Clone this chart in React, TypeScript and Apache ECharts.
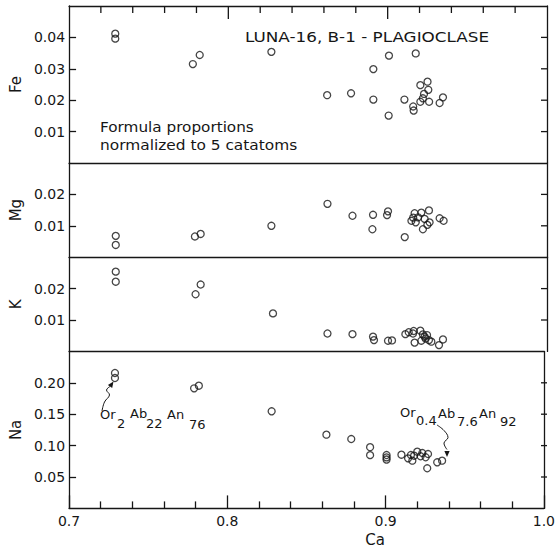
import React, { useEffect, useRef } from 'react';
import * as echarts from 'echarts';

// ---- Data ----
const caFe = [0.729, 0.729, 0.7777, 0.782, 0.827, 0.862, 0.877, 0.891, 0.891, 0.9008, 0.9006, 0.9105, 0.9176, 0.916, 0.9163, 0.9205, 0.925, 0.9255, 0.9228, 0.9221, 0.9205, 0.926, 0.9326, 0.9347];
const fe = [0.0412, 0.0396, 0.0315, 0.0344, 0.0354, 0.0216, 0.0222, 0.0299, 0.0202, 0.0342, 0.0151, 0.0202, 0.0349, 0.018, 0.0167, 0.0248, 0.0259, 0.0233, 0.022, 0.0206, 0.0195, 0.0195, 0.0191, 0.0209];

const caMg = [0.7293, 0.7293, 0.779, 0.7826, 0.827, 0.8622, 0.8779, 0.8908, 0.8904, 0.9002, 0.8996, 0.9107, 0.9169, 0.9211, 0.9259, 0.916, 0.9191, 0.9149, 0.9176, 0.9232, 0.9263, 0.9249, 0.9221, 0.9326, 0.9351];
const mg = [0.0068, 0.0039, 0.0066, 0.0074, 0.01, 0.017, 0.0132, 0.0135, 0.0089, 0.0146, 0.0134, 0.0064, 0.014, 0.0142, 0.0149, 0.0126, 0.0127, 0.0116, 0.0111, 0.0122, 0.0111, 0.0103, 0.0089, 0.0124, 0.0116];

const caK = [0.7293, 0.7293, 0.7794, 0.7826, 0.828, 0.8622, 0.8779, 0.8908, 0.8914, 0.9002, 0.9027, 0.9111, 0.9132, 0.9159, 0.9163, 0.9205, 0.9221, 0.9232, 0.9247, 0.9259, 0.9274, 0.9169, 0.9211, 0.9238, 0.9322, 0.9347];
const k = [0.0254, 0.0222, 0.0182, 0.0213, 0.0121, 0.0057, 0.0055, 0.0047, 0.0036, 0.0034, 0.0035, 0.0055, 0.0061, 0.0057, 0.0065, 0.0066, 0.0054, 0.0047, 0.0052, 0.0036, 0.0031, 0.0028, 0.0034, 0.0041, 0.002, 0.0038];

const caNa = [0.729, 0.729, 0.779, 0.782, 0.828, 0.8626, 0.8783, 0.8902, 0.8902, 0.9006, 0.9006, 0.9006, 0.91, 0.916, 0.92, 0.9232, 0.9268, 0.918, 0.9142, 0.9169, 0.9221, 0.9253, 0.9263, 0.9326, 0.9357];
const na = [0.2156, 0.2076, 0.1912, 0.1954, 0.1546, 0.1174, 0.1105, 0.0975, 0.0848, 0.085, 0.0812, 0.0778, 0.0855, 0.085, 0.0903, 0.0882, 0.0866, 0.0839, 0.0797, 0.076, 0.083, 0.0814, 0.0639, 0.0734, 0.076];

const panelNames = ['Fe', 'Mg', 'K', 'Na'];
const panelMax = [0.05, 0.03, 0.03, 0.25];
const panelInterval = [0.01, 0.01, 0.01, 0.05];
const xMin = 0.7;
const xMax = 1.0;
const xInterval = 0.1;
const xMinorSteps = 5;
const xName = 'Ca';
const title = 'LUNA-16, B-1 - PLAGIOCLASE';
const note1 = 'Formula proportions';
const note2 = 'normalized to 5 catatoms';

const INK = '#161616';
const FONT = 'DejaVu Sans';

function arrowHead(from: number[], tip: number[], len = 6, half = 2.6) {
  const dx = tip[0] - from[0];
  const dy = tip[1] - from[1];
  const d = Math.hypot(dx, dy) || 1;
  const ux = dx / d, uy = dy / d;
  const bx = tip[0] - ux * len, by = tip[1] - uy * len;
  return [tip, [bx - uy * half, by + ux * half], [bx + uy * half, by - ux * half]];
}

function txt(x: number, y: number, text: string, size: number, scaleX = 1) {
  return {
    type: 'text', x, y, scaleX,
    style: { text, fill: INK, font: `${size}px "${FONT}"`, fontSize: size, fontFamily: FONT, align: 'left', verticalAlign: 'middle' },
  };
}

function seg(x1: number, y1: number, x2: number, y2: number) {
  return { type: 'polyline', silent: true, z: 50, shape: { points: [[x1, y1], [x2, y2]] }, style: { stroke: INK, lineWidth: 1.3, fill: null } };
}

export default function App() {
  const ref = useRef<HTMLDivElement>(null);
  useEffect(() => {
    document.body.style.margin = '0';
    const chart = echarts.init(ref.current!, null, { renderer: 'svg' });
    const L = 69, W = 478, U = 31.4, T0 = 6;
    const units = [5, 3, 3, 5];
    const tops: number[] = [];
    let t = T0;
    units.forEach((u) => { tops.push(t); t += u * U; });
    const grids: any[] = units.map((u, i) => ({ left: L, width: W, top: tops[i], height: u * U }));

    const ls = () => ({ color: INK, width: 1.3 });
    const xAxes: any[] = units.map((_, i) => ({
      type: 'value', gridIndex: i, min: xMin, max: xMax, interval: xInterval, position: 'top',
      axisLine: { show: true, onZero: false, lineStyle: ls() },
      axisTick: { show: false }, minorTick: { show: false },
      axisLabel: { show: false },
      splitLine: { show: false },
    }));
    xAxes.push({
      type: 'value', gridIndex: 3, min: xMin, max: xMax, interval: xInterval, position: 'bottom',
      axisLine: { show: true, onZero: false, lineStyle: ls() },
      axisTick: { show: true, inside: true, length: 13, lineStyle: ls() },
      minorTick: { show: true, splitNumber: xMinorSteps, length: 7, lineStyle: ls() },
      axisLabel: { show: true, formatter: (v: number) => v.toFixed(1), color: INK, fontSize: 14, fontFamily: FONT, margin: 6 },
      splitLine: { show: false },
    });

    const yAxes: any[] = [];
    units.forEach((_, i) => {
      yAxes.push({
        type: 'value', gridIndex: i, min: 0, max: panelMax[i], interval: panelInterval[i], position: 'left',
        name: panelNames[i], nameLocation: 'middle', nameGap: 46, nameRotate: 90,
        nameTextStyle: { color: INK, fontSize: 15, fontFamily: FONT },
        axisLine: { show: true, onZero: false, lineStyle: ls() },
        axisTick: { show: true, inside: true, length: 7, lineStyle: ls() },
        axisLabel: { show: true, showMinLabel: false, showMaxLabel: false, formatter: (v: number) => v.toFixed(2), color: INK, fontSize: 14, fontFamily: FONT, margin: 4 },
        splitLine: { show: false },
      });
    });
    units.forEach((_, i) => {
      yAxes.push({
        type: 'value', gridIndex: i, min: 0, max: panelMax[i], interval: panelInterval[i], position: 'right',
        axisLine: { show: true, onZero: false, lineStyle: ls() },
        axisTick: { show: false },
        axisLabel: { show: false }, splitLine: { show: false },
      });
    });

    const pairs = [[caFe, fe], [caMg, mg], [caK, k], [caNa, na]];
    const series: any[] = pairs.map(([xs, ys], i) => ({
      type: 'scatter', xAxisIndex: i === 3 ? 4 : i, yAxisIndex: i,
      symbol: 'circle', symbolSize: 7,
      itemStyle: { color: 'rgba(255,255,255,0)', borderColor: INK, borderWidth: 1.3 },
      data: xs.map((x, j) => [x, ys[j]]),
    }));

    const leftCurve = [[102, 411], [104.5, 402], [109.5, 395], [106.5, 390], [110, 386.5]];
    const rightCurve = [[437, 425], [444, 430.5], [448, 437.5], [444, 443], [447, 449.5]];

    // frame ticks: hanging ticks on the top edge, inward ticks on the right edge (same linear layout as the axes)
    const tickLines: any[] = [];
    const minorStep = xInterval / xMinorSteps;
    const nSteps = Math.round((xMax - xMin) / minorStep);
    for (let s = 1; s < nSteps; s++) {
      const px = L + (s * minorStep) / (xMax - xMin) * W;
      const len = s % xMinorSteps === 0 ? 13 : 7;
      tickLines.push(seg(px, T0, px, T0 + len));
    }
    units.forEach((u, i) => {
      const n = Math.round(panelMax[i] / panelInterval[i]);
      const h = u * U;
      for (let s = 1; s < n; s++) {
        const py = tops[i] + h - (s / n) * h;
        tickLines.push(seg(L + W - 6, py, L + W, py));
      }
    });

    const graphic: any[] = [
      txt(245, 37, title, 14, 1.2),
      txt(100, 127, note1, 14, 1.09),
      txt(100, 145, note2, 14, 1.1),
      txt(100, 414, 'Or', 13), txt(117, 423, '2', 13),
      txt(130, 413, 'Ab', 13), txt(146, 423, '22', 13),
      txt(167, 414, 'An', 13), txt(189, 424, '76', 13),
      txt(400, 412, 'Or', 13), txt(416, 420, '0.4', 13),
      txt(438, 413, 'Ab', 13), txt(457, 421, '7.6', 13),
      txt(479, 413, 'An', 13), txt(500, 421, '92', 13),
      { type: 'text', x: 375, y: 540, style: { text: xName, fill: INK, font: `15px "${FONT}"`, fontSize: 15, fontFamily: FONT, align: 'center', verticalAlign: 'middle' } },
      { type: 'polyline', shape: { points: leftCurve, smooth: 0.4 }, style: { stroke: INK, lineWidth: 1, fill: null } },
      { type: 'polygon', shape: { points: arrowHead([110, 386.5], [113.5, 381.5]) }, style: { fill: INK } },
      { type: 'polyline', shape: { points: rightCurve, smooth: 0.4 }, style: { stroke: INK, lineWidth: 1, fill: null } },
      { type: 'polygon', shape: { points: arrowHead([447, 449.5], [447, 457]) }, style: { fill: INK } },
      ...tickLines,
    ];

    chart.setOption({
      animation: false,
      backgroundColor: '#ffffff',
      textStyle: { fontFamily: FONT },
      grid: grids,
      xAxis: xAxes,
      yAxis: yAxes,
      series,
      graphic,
    });
    return () => chart.dispose();
  }, []);
  return <div ref={ref} style={{ width: 558, height: 551 }} />;
}
